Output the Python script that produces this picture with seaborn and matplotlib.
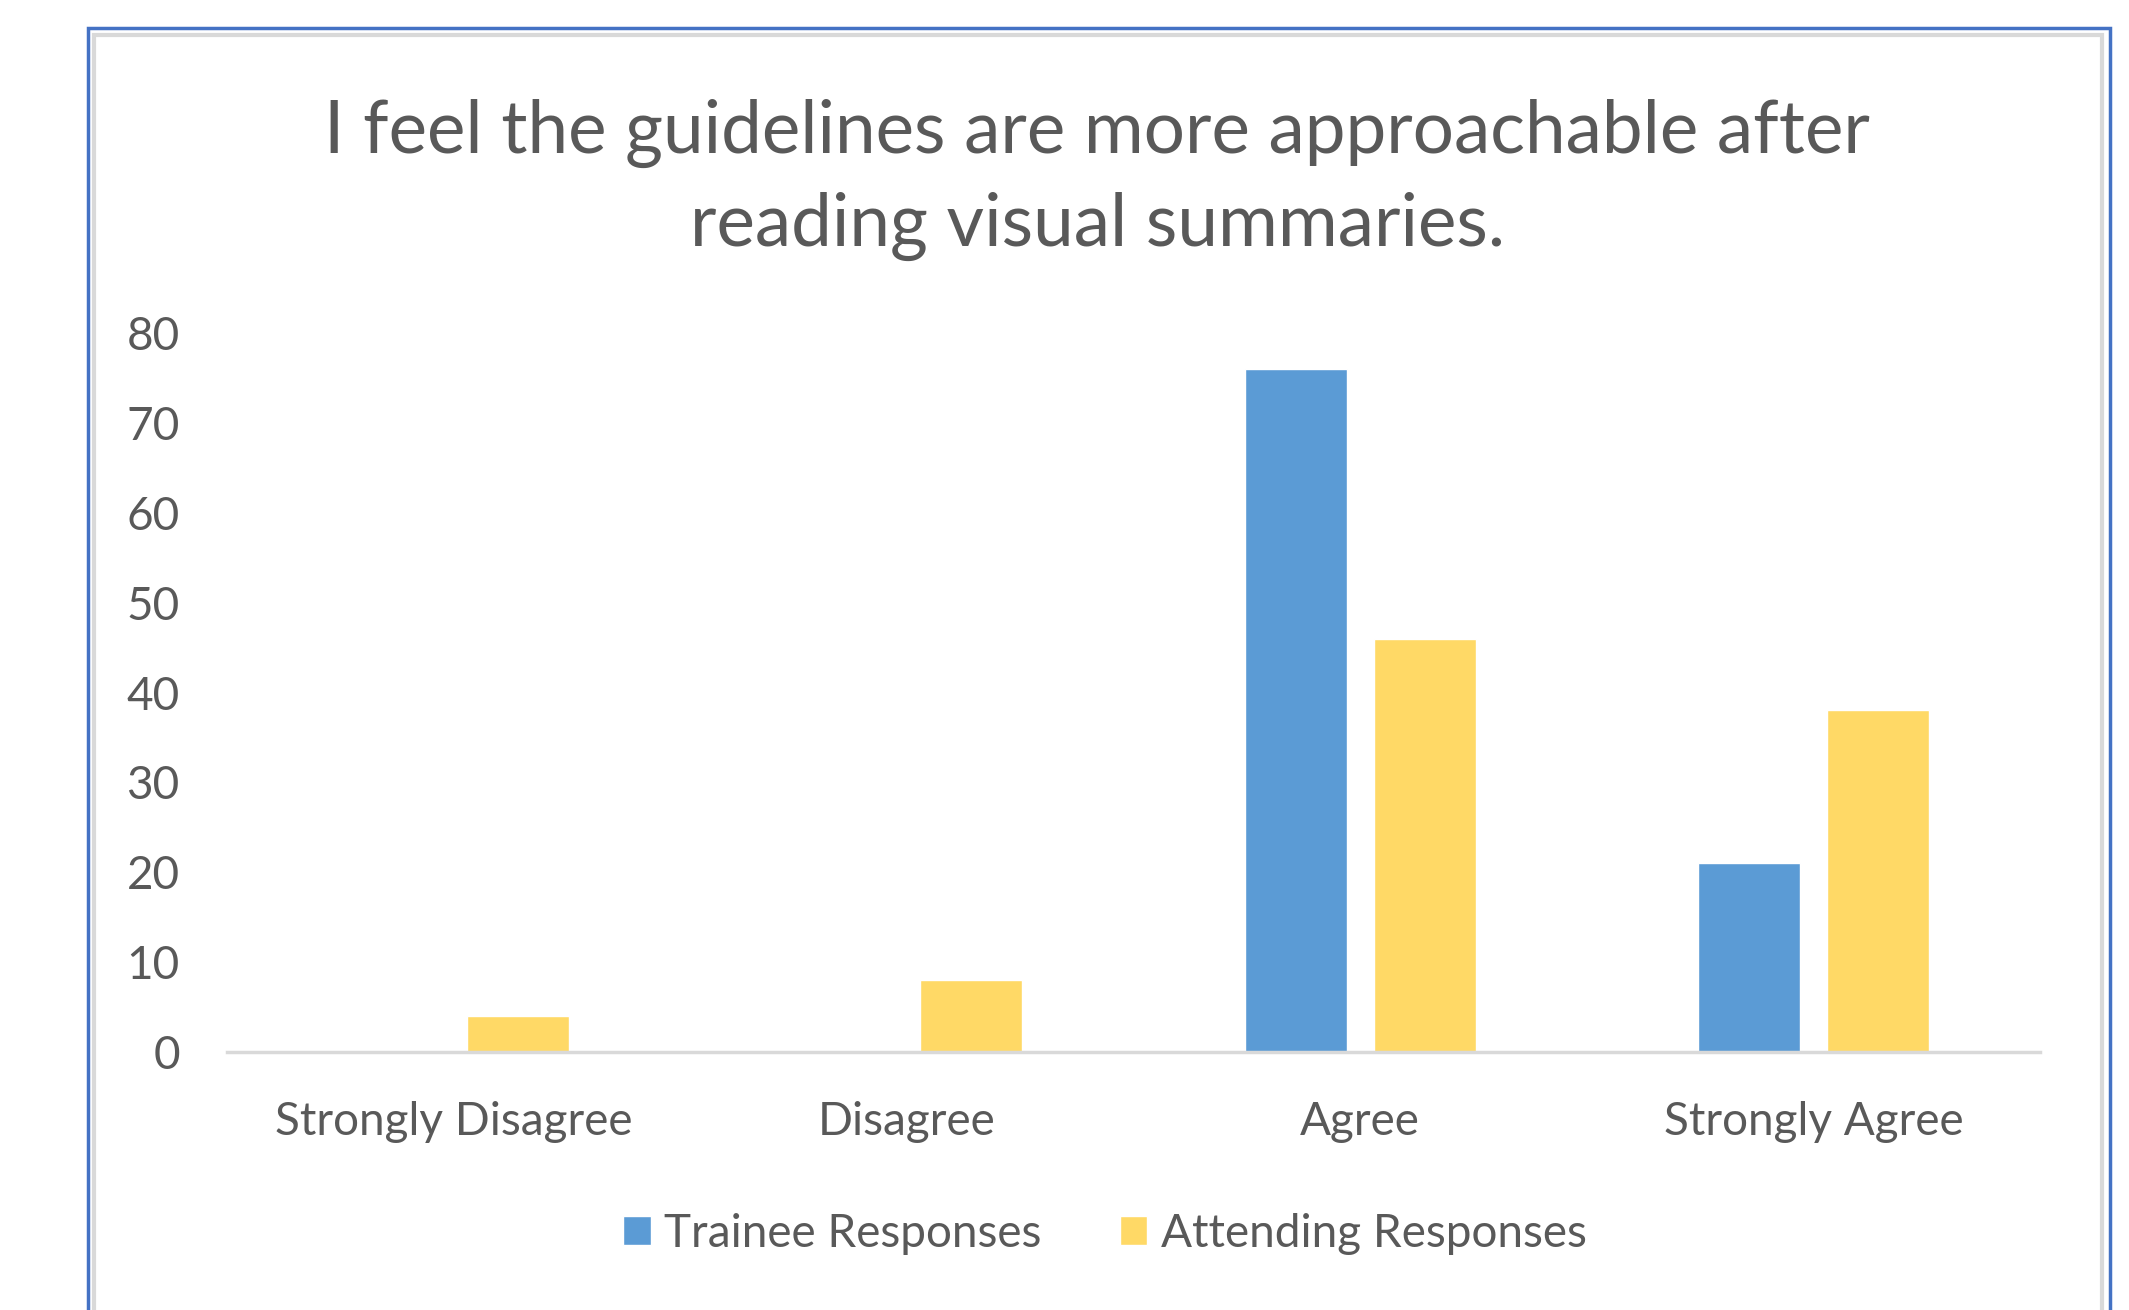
import matplotlib
matplotlib.use("Agg")
import matplotlib.pyplot as plt
import matplotlib.patches as mpatches
import pandas as pd
import seaborn as sns

# data
categories = ["Strongly Disagree", "Disagree", "Agree", "Strongly Agree"]
trainee = [0, 0, 76, 21]
attending = [4, 8, 46, 38]
series_names = ["Trainee Responses", "Attending Responses"]
y_ticks = [0, 10, 20, 30, 40, 50, 60, 70, 80]

title = "I feel the guidelines are more approachable after\nreading visual summaries."

df = pd.DataFrame({
    "category": categories * 2,
    "value": trainee + attending,
    "series": [series_names[0]] * 4 + [series_names[1]] * 4,
})

sns.set_theme(style="white")
plt.rcParams["font.family"] = ["Lato", "DejaVu Sans"]

text_grey = "#595959"
palette = {series_names[0]: "#5B9BD5", series_names[1]: "#FFD966"}

W, H = 2129, 1310
fig = plt.figure(figsize=(W / 100, H / 100), dpi=100)
fig.patch.set_facecolor("white")

# outer frame (blue selection border + grey chart border)
fig.patches.append(mpatches.Rectangle((88 / W, -0.05), (2110 - 88) / W, 1 - 28 / H + 0.05,
                                      transform=fig.transFigure, fill=False,
                                      edgecolor="#4472C4", linewidth=2.5))
fig.patches.append(mpatches.Rectangle((94 / W, -0.05), (2102 - 94) / W, 1 - 35 / H + 0.05,
                                      transform=fig.transFigure, fill=False,
                                      edgecolor="#D9D9D9", linewidth=3))

ax = fig.add_axes([227 / W, 1 - 1052 / H, (2040 - 227) / W, (1052 - 333) / H])

sns.barplot(data=df, x="category", y="value", hue="series", order=categories,
            hue_order=series_names, palette=palette, width=0.57, gap=0.21,
            saturation=1, ax=ax)

ax.set_ylim(0, 80)
ax.set_xlim(-0.5, 3.5)
ax.set_yticks(y_ticks)
ax.set_xlabel("")
ax.set_ylabel("")
for s in ["top", "right", "left"]:
    ax.spines[s].set_visible(False)
ax.spines["bottom"].set_color("#D9D9D9")
ax.spines["bottom"].set_linewidth(2.5)
ax.tick_params(axis="both", length=0, labelsize=33, labelcolor=text_grey)
ax.tick_params(axis="y", pad=34)
ax.tick_params(axis="x", pad=35)

handles, labels = ax.get_legend_handles_labels()
ax.get_legend().remove()
fig.legend(handles, labels, loc="center", bbox_to_anchor=(1105 / W, 1 - 1234 / H),
           ncol=2, frameon=False, fontsize=33, labelcolor=text_grey,
           handlelength=0.6, handleheight=0.6, handletextpad=0.3, columnspacing=1.7)

fig.text(1097 / W, 1 - 180 / H, title, ha="center", va="center", fontsize=52.5,
         color=text_grey, linespacing=1.45)

fig.savefig("out.png", dpi=100, facecolor="white")
